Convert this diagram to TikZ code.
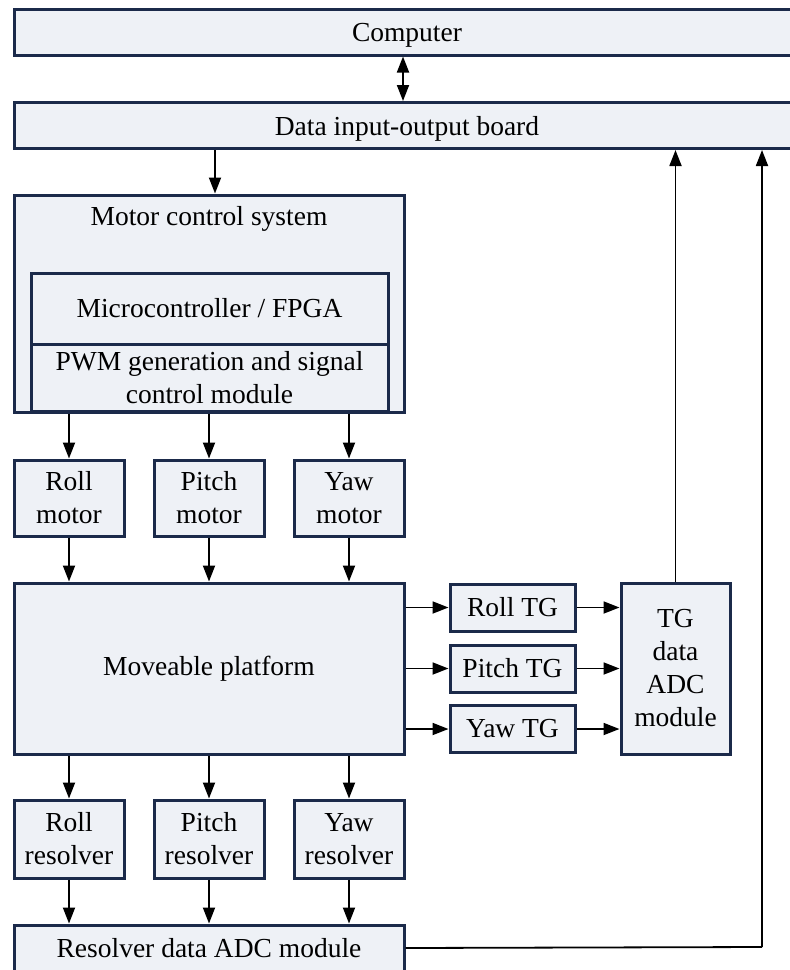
\documentclass[tikz,border=0pt]{standalone}
\usepackage{fontspec}
\setmainfont{Liberation Serif}
\usetikzlibrary{arrows.meta}
\definecolor{bordc}{HTML}{1B2A4A}
\definecolor{fillc}{HTML}{EEF1F6}
\tikzset{
  box/.style={draw=bordc, fill=fillc, line width=3pt, inner sep=0pt, align=center,
    font=\fontsize{27.5}{33}\selectfont},
  conn/.style={line width=1.8pt, -{Triangle[length=16pt,width=12pt]}},
  dconn/.style={line width=1.8pt, {Triangle[length=16pt,width=12pt]}-{Triangle[length=16pt,width=12pt]}},
  plain/.style={line width=1.8pt}
}
\begin{document}
\begin{tikzpicture}[x=1pt,y=-1pt]
\useasboundingbox (0,0) rectangle (790,970);
\clip (0,0) rectangle (790,970);
\fill[white] (0,0) rectangle (790,970);
% top boxes
\node[box, text depth=0pt, minimum width=786pt, minimum height=46pt] (comp) at (407,32) {Computer};
\node[box, text depth=0pt, minimum width=786pt, minimum height=46pt] (dio) at (407,125.5) {Data input-output board};
% motor control system
\node[box, minimum width=390pt, minimum height=217pt,
  label={[anchor=north, font=\fontsize{27.5}{33}\selectfont, inner sep=0pt, yshift=-13pt]north:Motor control system}] (mcs) at (209,303.5) {};
\node[box, minimum width=357pt, minimum height=71pt] (micro) at (209.5,308.5) {Microcontroller / FPGA};
\node[box, minimum width=357pt, minimum height=67pt] (pwm) at (209.5,377.5) {PWM generation and signal\\control module};
% motors
\node[box, minimum width=110pt, minimum height=76pt] (rm) at (69,498) {Roll\\motor};
\node[box, minimum width=110pt, minimum height=76pt] (pm) at (209,498) {Pitch\\motor};
\node[box, minimum width=110pt, minimum height=76pt] (ym) at (349,498) {Yaw\\motor};
% platform
\node[box, minimum width=390pt, minimum height=171pt] (plat) at (209,668.5) {Moveable platform};
% resolvers
\node[box, minimum width=110pt, minimum height=78pt] (rr) at (69,839) {Roll\\resolver};
\node[box, minimum width=110pt, minimum height=78pt] (pr) at (209,839) {Pitch\\resolver};
\node[box, minimum width=110pt, minimum height=78pt] (yr) at (349,839) {Yaw\\resolver};
\node[box, minimum width=390pt, minimum height=46pt] (rad) at (209,948) {Resolver data ADC module};
% TGs
\node[box, minimum width=125pt, minimum height=47pt] (rtg) at (512.5,607.5) {Roll TG};
\node[box, minimum width=125pt, minimum height=47pt] (ptg) at (512.5,668.5) {Pitch TG};
\node[box, minimum width=125pt, minimum height=47pt] (ytg) at (512.5,729) {Yaw TG};
\node[box, minimum width=109pt, minimum height=171pt] (tgadc) at (675.5,668.5) {TG\\data\\ADC\\module};
% connectors
\draw[dconn] (comp.south -| 403,0) -- (dio.north -| 403,0);
\draw[conn] (dio.south -| 215,0) -- (mcs.north -| 215,0);
\foreach \m in {rm,pm,ym}{
  \draw[conn] (mcs.south -| \m) -- (\m.north);
  \draw[conn] (\m.south) -- (plat.north -| \m);
}
\foreach \r in {rr,pr,yr}{
  \draw[conn] (plat.south -| \r) -- (\r.north);
  \draw[conn] (\r.south) -- (rad.north -| \r);
}
\foreach \t in {rtg,ptg,ytg}{
  \draw[conn] (plat.east |- \t) -- (\t.west);
  \draw[conn] (\t.east) -- (tgadc.west |- \t);
}
\draw[conn] (tgadc.north) -- (tgadc.north |- dio.south);
\coordinate (fb) at (762,947);
\draw[plain] (rad.east) -- (fb);
\draw[conn] (fb) -- (fb |- dio.south);
\end{tikzpicture}
\end{document}
